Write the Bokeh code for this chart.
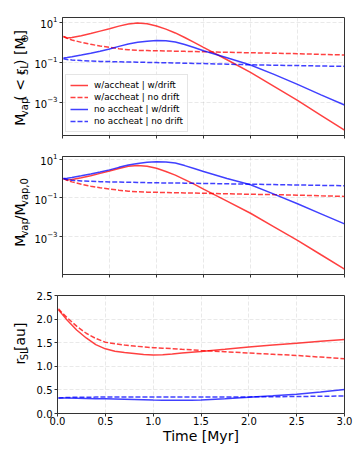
from bokeh.plotting import figure
from bokeh.layouts import column, row
from bokeh.models import (Range1d, FixedTicker, Legend, LegendItem,
                          PrintfTickFormatter, CustomJSTickFormatter)
from bokeh.core.properties import value
from bokeh.embed import file_html
from bokeh.resources import INLINE
import math

# ---------------- data ----------------
time_myr = [0.01, 0.05, 0.1, 0.2, 0.3, 0.4, 0.5, 0.6, 0.7, 0.8, 0.9, 1.0,
            1.1, 1.2, 1.3, 1.4, 1.5, 1.75, 2.0, 2.25, 2.5, 2.75, 3.0]

# panel 1: M_vap(<r_SL) [M_earth]
mvap_acc_drift = [1.95, 1.66, 1.74, 2.14, 2.75, 3.63, 4.79, 6.46, 8.32, 9.33, 8.51, 6.61,
                  4.57, 2.95, 1.74, 1.0, 0.562, 0.135, 0.0316, 0.00631, 0.00126, 0.000229, 4.17e-5]
mvap_acc_nodrift = [1.95, 1.58, 1.32, 1.0, 0.794, 0.661, 0.562, 0.479, 0.427, 0.398, 0.389, 0.380,
                    0.372, 0.363, 0.355, 0.347, 0.339, 0.320, 0.302, 0.288, 0.272, 0.251, 0.234]
mvap_noacc_drift = [0.166, 0.174, 0.191, 0.234, 0.288, 0.363, 0.468, 0.631, 0.832, 1.0, 1.15, 1.22,
                    1.20, 1.05, 0.776, 0.550, 0.380, 0.170, 0.0741, 0.0251, 0.00794, 0.0024, 0.000741]
mvap_noacc_nodrift = [0.151, 0.138, 0.132, 0.123, 0.117, 0.112, 0.110, 0.107, 0.105, 0.102, 0.100, 0.0977,
                      0.0955, 0.0933, 0.0912, 0.0891, 0.0871, 0.0813, 0.0759, 0.0724, 0.0692, 0.0661, 0.0631]

# panel 2: M_vap / M_vap,0
norm_acc_drift = [1.0, 0.851, 0.891, 1.10, 1.41, 1.86, 2.45, 3.31, 4.27, 4.79, 4.37, 3.39,
                  2.34, 1.51, 0.891, 0.513, 0.288, 0.0692, 0.0162, 0.00324, 0.000646, 0.000117, 2.14e-5]
norm_acc_nodrift = [1.0, 0.813, 0.676, 0.513, 0.407, 0.339, 0.288, 0.251, 0.224, 0.209, 0.200, 0.195,
                    0.191, 0.186, 0.182, 0.178, 0.174, 0.164, 0.155, 0.148, 0.140, 0.129, 0.120]
norm_noacc_drift = [1.0, 1.05, 1.15, 1.41, 1.74, 2.19, 2.82, 3.80, 5.01, 6.03, 6.92, 7.33,
                    7.24, 6.31, 4.68, 3.31, 2.34, 1.0, 0.479, 0.158, 0.0501, 0.0151, 0.00457]
norm_noacc_nodrift = [1.0, 0.891, 0.832, 0.759, 0.724, 0.692, 0.676, 0.661, 0.646, 0.631, 0.617, 0.603,
                      0.596, 0.589, 0.582, 0.575, 0.562, 0.537, 0.513, 0.490, 0.468, 0.447, 0.427]

# panel 3: r_SL [au]
rsl_acc_drift = [2.2, 2.1, 1.98, 1.77, 1.6, 1.46, 1.37, 1.32, 1.29, 1.27, 1.25, 1.24,
                 1.245, 1.26, 1.28, 1.30, 1.315, 1.36, 1.41, 1.45, 1.49, 1.53, 1.57]
rsl_acc_nodrift = [2.22, 2.13, 2.03, 1.85, 1.70, 1.59, 1.51, 1.48, 1.45, 1.43, 1.41, 1.395,
                   1.385, 1.375, 1.36, 1.35, 1.335, 1.31, 1.28, 1.255, 1.23, 1.195, 1.16]
rsl_noacc_drift = [0.33, 0.33, 0.33, 0.325, 0.32, 0.315, 0.31, 0.305, 0.30, 0.295, 0.29, 0.285,
                   0.282, 0.28, 0.28, 0.282, 0.285, 0.31, 0.345, 0.375, 0.41, 0.455, 0.51]
rsl_noacc_nodrift = [0.33, 0.335, 0.34, 0.343, 0.345, 0.347, 0.348, 0.349, 0.349, 0.35, 0.35, 0.35,
                     0.35, 0.35, 0.35, 0.35, 0.35, 0.351, 0.352, 0.355, 0.36, 0.365, 0.37]

series_labels = ["w/accheat | w/drift", "w/accheat | no drift",
                 "no accheat | w/drift", "no accheat | no drift"]
series_colors = ["red", "red", "blue", "blue"]
series_dash = ["solid", "5 2", "solid", "5 2"]

x_ticks = [0.0, 0.5, 1.0, 1.5, 2.0, 2.5, 3.0]
log_ticks = [1e-3, 1e-1, 1e1]
r_ticks = [0.0, 0.5, 1.0, 1.5, 2.0, 2.5]

# y-axis titles as (text, is_subscript) pieces
ylabel1 = [("M", False), ("vap", True), ("( < r", False), ("SL", True),
           (") [M", False), ("\u2295", True), ("]", False)]
ylabel2 = [("M", False), ("vap", True), ("/M", False), ("vap,0", True)]
ylabel3 = [("r", False), ("SL", True), (" [au]", False)]
xlabel = "Time [Myr]"

# ---------------- styling ----------------
FONT = "DejaVu Sans"
MAIN = 14
SUB = 10
SUB_GAP = 0.8
LAB_W = 31
MAIN_LEFT = 26
MAIN_W = 360 - LAB_W
FRAME_W = 287
FRAME_H = 118
AXCOL = "#333333"

CHAR_W = {' ': 0.3179, '(': 0.3901, ')': 0.3901, ',': 0.3179, '/': 0.3369, '0': 0.6362,
          '<': 0.8379, 'L': 0.5571, 'M': 0.8628, 'S': 0.6348, '[': 0.3901, ']': 0.3901,
          'a': 0.6128, 'p': 0.6348, 'r': 0.4111, 'u': 0.6338, 'v': 0.5918, '\u2295': 0.8379}


def text_w(t, size):
    return sum(CHAR_W.get(c, 0.6) for c in t) * size


def piece_w(t, s):
    return text_w(t, SUB) + SUB_GAP if s else text_w(t, MAIN)


def blank_fig(w, h):
    f = figure(width=w, height=h, x_range=Range1d(0, w), y_range=Range1d(0, h),
               output_backend="svg", toolbar_location=None, title=None,
               x_axis_location=None, y_axis_location=None,
               min_border_left=0, min_border_right=0, min_border_top=0, min_border_bottom=0)
    f.grid.visible = False
    f.outline_line_color = None
    return f


def make_fig(y_range, y_type, height, top, bottom, ticks, show_xlabels):
    p = figure(width=MAIN_W, height=height, x_range=Range1d(0, 3), y_range=y_range,
               y_axis_type=y_type, output_backend="svg", toolbar_location=None, title=None,
               min_border_left=MAIN_LEFT, min_border_right=MAIN_W - MAIN_LEFT - FRAME_W,
               min_border_top=top, min_border_bottom=bottom)
    p.outline_line_color = AXCOL
    p.outline_line_width = 1
    p.xaxis.ticker = FixedTicker(ticks=x_ticks)
    p.yaxis.ticker = FixedTicker(ticks=ticks)
    for ax in [p.xaxis[0], p.yaxis[0]]:
        ax.axis_line_color = AXCOL
        ax.major_tick_line_color = AXCOL
        ax.major_tick_out = 3
        ax.major_tick_in = 0
        ax.minor_tick_line_color = None
        ax.major_label_text_font = FONT
        ax.major_label_text_font_size = "10px"
        ax.major_label_text_color = "black"
        ax.major_label_standoff = 2
    p.xaxis.major_label_standoff = 0
    if show_xlabels:
        p.xaxis.formatter = PrintfTickFormatter(format="%.1f")
    else:
        p.xaxis.formatter = CustomJSTickFormatter(code="return ''")
    for g in [p.xgrid[0], p.ygrid[0]]:
        g.grid_line_color = "#b0b0b0"
        g.grid_line_alpha = 0.35
        g.grid_line_dash = "4 2"
        g.grid_line_width = 0.8
    return p


def ylabel_fig(height, bottom, pieces):
    f = blank_fig(LAB_W, height)
    total = sum(piece_w(t, s) for t, s in pieces)
    pos = bottom + FRAME_H / 2 - total / 2
    xs, ys, ts, sz = [], [], [], []
    for t, s in pieces:
        xs.append(23.5 if s else 19)
        ys.append(pos)
        ts.append(t)
        sz.append(f"{SUB if s else MAIN}px")
        pos += piece_w(t, s)
    f.text(x=xs, y=ys, text=ts, angle=math.pi / 2, text_align="left",
           text_baseline="alphabetic", text_font=value(FONT), text_font_size=sz,
           text_color="black")
    return f


def add_lines(p, ys):
    rs = []
    for y, c, d in zip(ys, series_colors, series_dash):
        rs.append(p.line(time_myr, y, line_color=c, line_alpha=0.75, line_width=1.5,
                         line_dash=d))
    return rs


# panel 1
H1, B1 = 147, 12
p1 = make_fig(Range1d(2.24e-5, 17.4), "log", H1, 17, B1, log_ticks, False)
r1 = add_lines(p1, [mvap_acc_drift, mvap_acc_nodrift, mvap_noacc_drift, mvap_noacc_nodrift])
legend = Legend(items=[LegendItem(label=l, renderers=[r]) for l, r in zip(series_labels, r1)],
                location="bottom_left", margin=3, padding=4, spacing=0,
                glyph_width=18, glyph_height=12, label_height=12, label_standoff=6,
                label_text_font=FONT, label_text_font_size="8.8px", label_text_color="black",
                border_line_color="#cccccc", border_line_width=1,
                background_fill_color="white", background_fill_alpha=0.8)
p1.add_layout(legend)
l1 = ylabel_fig(H1, B1, ylabel1)

# panel 2
H2, B2 = 139, 12
p2 = make_fig(Range1d(1.12e-5, 13.8), "log", H2, 9, B2, log_ticks, False)
add_lines(p2, [norm_acc_drift, norm_acc_nodrift, norm_noacc_drift, norm_noacc_nodrift])
l2 = ylabel_fig(H2, B2, ylabel2)

# panel 3
H3, B3 = 160, 33
p3 = make_fig(Range1d(0, 2.5), "linear", H3, 9, B3, r_ticks, True)
p3.yaxis.formatter = PrintfTickFormatter(format="%.1f")
p3.xaxis.axis_label = xlabel
p3.xaxis.axis_label_text_font = FONT
p3.xaxis.axis_label_text_font_size = f"{MAIN}px"
p3.xaxis.axis_label_text_font_style = "normal"
p3.xaxis.axis_label_text_color = "black"
p3.xaxis.axis_label_standoff = 0
add_lines(p3, [rsl_acc_drift, rsl_acc_nodrift, rsl_noacc_drift, rsl_noacc_nodrift])
l3 = ylabel_fig(H3, B3, ylabel3)

layout = column(row(l1, p1), row(l2, p2), row(l3, p3))
open("out.html", "w").write(file_html(layout, INLINE))
